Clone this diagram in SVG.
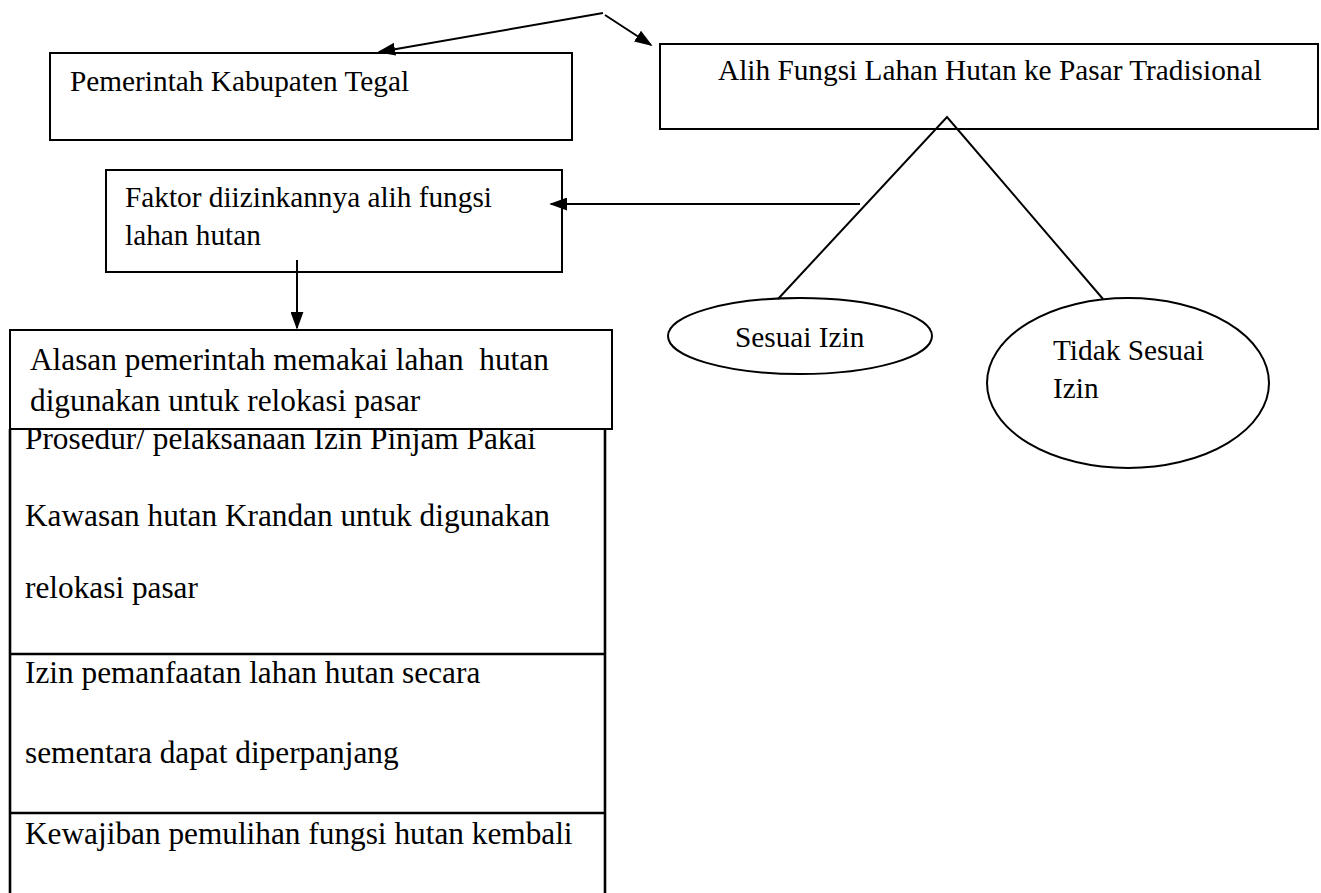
<svg xmlns="http://www.w3.org/2000/svg" width="1321" height="893" viewBox="0 0 1321 893">
<defs>
<style>
.box{fill:#fff;stroke:#000;stroke-width:2}
.ln{fill:none;stroke:#000;stroke-width:2}
.tl{fill:none;stroke:#000;stroke-width:2.6}
.t{font-family:"Liberation Serif","Times New Roman",serif;font-size:29.3px;fill:#000}
.tb{font-size:31.3px}
</style>
<marker id="ahb" viewBox="0 0 10 10" refX="9" refY="5" markerWidth="18" markerHeight="13" orient="auto" markerUnits="userSpaceOnUse" preserveAspectRatio="none">
<path d="M0,0 L10,5 L0,10 z" fill="#000"/>
</marker>
</defs>
<rect width="1321" height="893" fill="#fff"/>

<g id="table">
<path class="tl" d="M10,429 V893 M605,429 V893 M10,654 H605 M10,813 H605"/>
<text class="t tb" x="25" y="449">Prosedur/ pelaksanaan Izin Pinjam Pakai</text>
<text class="t tb" x="25" y="526">Kawasan hutan Krandan untuk digunakan</text>
<text class="t tb" x="25" y="598">relokasi pasar</text>
<text class="t tb" x="25" y="683">Izin pemanfaatan lahan hutan secara</text>
<text class="t tb" x="25" y="763">sementara dapat diperpanjang</text>
<text class="t tb" x="25" y="844">Kewajiban pemulihan fungsi hutan kembali</text>
</g>

<g id="alasan">
<rect class="box" x="10" y="330" width="602" height="99"/>
<text class="t tb" x="30" y="370" xml:space="preserve">Alasan pemerintah memakai lahan  hutan</text>
<text class="t tb" x="30" y="411">digunakan untuk relokasi pasar</text>
</g>

<g id="pemerintah">
<rect class="box" x="50" y="53" width="522" height="87"/>
<text class="t" x="70" y="91">Pemerintah Kabupaten Tegal</text>
</g>

<g id="alih">
<rect class="box" x="660" y="44" width="658" height="85"/>
<text class="t" x="718" y="80">Alih Fungsi Lahan Hutan ke Pasar Tradisional</text>
</g>

<g id="faktor">
<rect class="box" x="106" y="170" width="456" height="102"/>
<text class="t" x="125" y="207">Faktor diizinkannya alih fungsi</text>
<text class="t" x="125" y="245">lahan hutan</text>
</g>

<g id="sesuai">
<ellipse class="box" cx="800" cy="336" rx="132" ry="38"/>
<text class="t" x="735" y="347">Sesuai Izin</text>
</g>

<g id="tidak">
<ellipse class="box" cx="1128" cy="383" rx="141" ry="85"/>
<text class="t" x="1053" y="360">Tidak Sesuai</text>
<text class="t" x="1053" y="398">Izin</text>
</g>

<g id="connectors">
<line class="ln" x1="603" y1="13" x2="379" y2="52" marker-end="url(#ahb)"/>
<line class="ln" x1="605" y1="15" x2="651" y2="45" marker-end="url(#ahb)"/>
<line class="ln" x1="860" y1="204" x2="551" y2="204" marker-end="url(#ahb)"/>
<line class="ln" x1="297" y1="260" x2="297" y2="328" marker-end="url(#ahb)"/>
<path class="ln" d="M778,299 L947,117 L1103,299"/>
</g>
</svg>
